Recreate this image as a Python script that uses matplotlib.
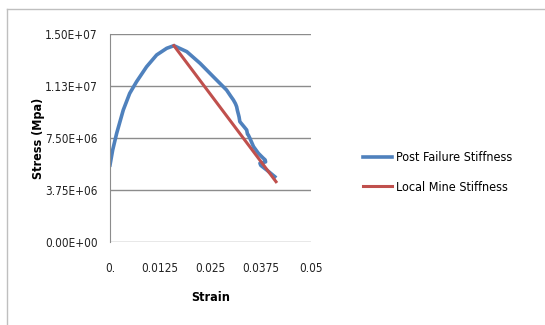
import matplotlib.pyplot as plt
from matplotlib.lines import Line2D

# stress-strain data
strain_post = [0.0000, 0.00067, 0.00166, 0.0033, 0.0049, 0.0066, 0.0091, 0.0116, 0.0141, 0.0159,
               0.0191, 0.0224, 0.0257, 0.0290, 0.0300, 0.0307, 0.0312, 0.0315, 0.0317, 0.0319,
               0.0321, 0.0323, 0.0333, 0.0340, 0.0342, 0.0344, 0.0348, 0.0357, 0.0369, 0.0380,
               0.0386, 0.0387, 0.0373, 0.0375, 0.0390, 0.0410]
stress_post = [5.57e6, 6.66e6, 7.86e6, 9.54e6, 1.074e7, 1.158e7, 1.266e7, 1.351e7, 1.399e7, 1.418e7,
               1.375e7, 1.291e7, 1.194e7, 1.098e7, 1.055e7, 1.026e7, 1.00e7, 9.78e6, 9.50e6, 9.28e6,
               9.05e6, 8.70e6, 8.35e6, 8.10e6, 7.80e6, 7.74e6, 7.50e6, 6.90e6, 6.42e6, 6.10e6,
               5.94e6, 5.80e6, 5.70e6, 5.55e6, 5.21e6, 4.73e6]
strain_mine = [0.0159, 0.0413]
stress_mine = [1.418e7, 4.37e6]

xticks = [0, 0.0125, 0.025, 0.0375, 0.05]
xtick_labels = ['0.', '0.0125', '0.025', '0.0375', '0.05']
yticks = [0, 3.75e6, 7.5e6, 1.125e7, 1.5e7]
ytick_labels = ['0.00E+00', '3.75E+06', '7.50E+06', '1.13E+07', '1.50E+07']

plt.rcParams['font.family'] = ['DejaVu Sans']
plt.rcParams['font.stretch'] = 'condensed'

fig = plt.figure(figsize=(5.45, 3.25), dpi=100)
# chart frame: top and left edges
x0, y0 = 7 / 545, 1 - 9 / 325
fig.add_artist(Line2D([x0, 0.998], [y0, y0], color='#bfbfbf', linewidth=1.0, transform=fig.transFigure))
fig.add_artist(Line2D([x0, x0], [0.0, y0], color='#bfbfbf', linewidth=1.0, transform=fig.transFigure))

ax = fig.add_axes([110 / 545, (325 - 242.3) / 325, 201 / 545, 208 / 325])
ax.plot(strain_post, stress_post, color='#4f81bd', linewidth=2.6, label='Post Failure Stiffness')
ax.plot(strain_mine, stress_mine, color='#c0504d', linewidth=2.2, label='Local Mine Stiffness')

ax.set_xlim(0, 0.05)
ax.set_ylim(0, 1.5e7)
ax.set_xticks(xticks)
ax.set_xticklabels(xtick_labels)
ax.set_yticks(yticks)
ax.set_yticklabels(ytick_labels)
ax.tick_params(length=0, labelsize=8.5, colors='#222222')
ax.tick_params(axis='x', pad=14)
ax.tick_params(axis='y', pad=9)
ax.grid(axis='y', color='#8c8c8c', linewidth=1.0)
ax.set_axisbelow(True)
for s in ['top', 'right', 'bottom']:
    ax.spines[s].set_visible(False)
ax.spines['left'].set_color('#8c8c8c')

ax.set_xlabel('Strain', fontsize=9, fontweight='bold')
ax.xaxis.set_label_coords(0.5, -0.235)
ax.set_ylabel('Stress (Mpa)', fontsize=9, fontweight='bold')
ax.yaxis.set_label_coords(-0.325, 0.5)

ax.legend(loc='center left', bbox_to_anchor=(1.205, 0.335), frameon=False, fontsize=9,
          handlelength=2.3, handletextpad=0.3, labelspacing=1.3)

fig.savefig('out.png', dpi=100)
